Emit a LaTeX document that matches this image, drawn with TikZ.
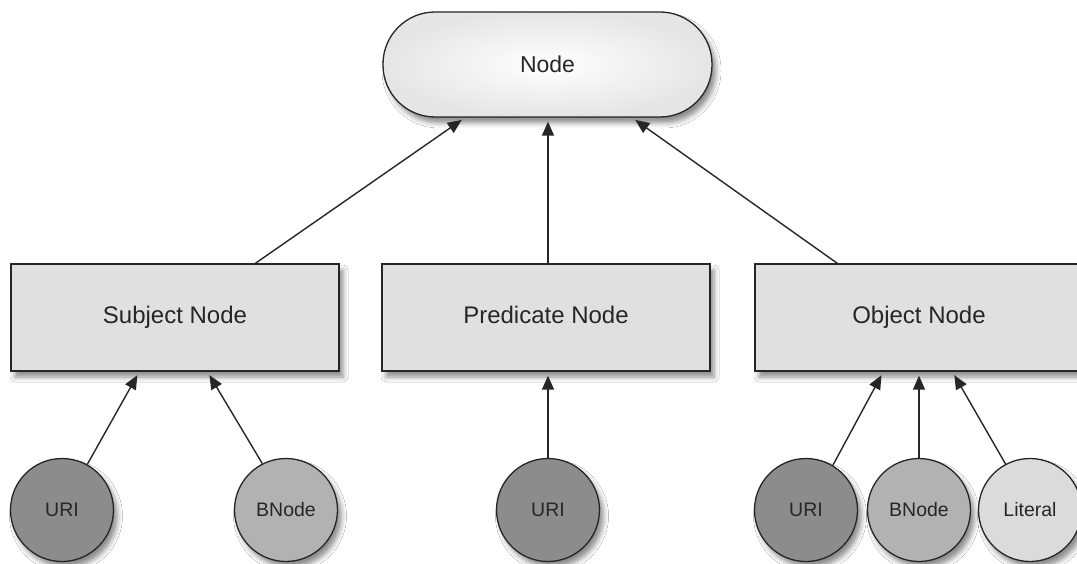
\documentclass[tikz,border=0pt]{standalone}
\usepackage{fontspec}
\setmainfont{Liberation Sans}
\usetikzlibrary{arrows.meta,calc,shadows.blur}
\begin{document}
\begin{tikzpicture}[x=1pt,y=-1pt,
  shd/.style={blur shadow={shadow xshift=4pt,shadow yshift=-6pt,shadow blur radius=5pt,shadow opacity=45}},
  topbox/.style={draw=black!85,line width=1.3pt,rounded corners=52pt,minimum width=329pt,minimum height=105pt,
     shading=radial,inner color=white,outer color=black!10,shd,font=\fontsize{23}{26}\selectfont,text=black!85},
  midbox/.style={draw=black!85,line width=1.3pt,fill=black!12,minimum width=328pt,minimum height=107pt,
     text height=17pt,text depth=5pt,shd,font=\fontsize{24}{27}\selectfont,text=black!85},
  circ/.style={circle,draw=black!85,line width=1.3pt,minimum size=103pt,inner sep=0pt,shd,
     font=\fontsize{19.5}{22}\selectfont,text=black!85},
  uri/.style={circ,fill=black!45},
  bnode/.style={circ,fill=black!30},
  lit/.style={circ,fill=black!14},
  arr/.style={line width=1.4pt,draw=black!85,-{Triangle[length=14pt,width=12pt]},shorten >=4pt}
]
\useasboundingbox (0,0) rectangle (1077,564);
\clip (0,0) rectangle (1077,564);
\fill[white] (0,0) rectangle (1077,564);
\node[topbox] (top) at (547.5,64.5) {Node};
\node[midbox] (subj) at (175,317.5) {Subject Node};
\node[midbox] (pred) at (546,317.5) {Predicate Node};
\node[midbox] (obj) at (919,317.5) {Object Node};
\node[uri] (suri) at (62,510) {URI};
\node[bnode] (sbn) at (286,510) {BNode};
\node[uri] (puri) at (548,510) {URI};
\node[uri] (ouri) at (806,510) {URI};
\node[bnode] (obn) at (919,510) {BNode};
\node[lit] (olit) at (1030,510) {Literal};
% upper arrows
\draw[arr] ($(subj.north west)+(245,0)$) -- ($(top.south)+(-82.5,0)$);
\draw[arr] ($(pred.north)+(2,0)$) -- ($(top.south)+(0.5,0)$);
\draw[arr] ($(obj.north west)+(83,0)$) -- ($(top.south)+(84.5,0)$);
% lower arrows
\draw[arr] (suri.61) -- ($(subj.south west)+(129,0)$);
\draw[arr] (sbn.117) -- ($(subj.south west)+(197,0)$);
\draw[arr] (puri.north) -- ($(pred.south)+(2,0)$);
\draw[arr] (ouri.59) -- ($(obj.south west)+(129,0)$);
\draw[arr] (obn.north) -- (obj.south);
\draw[arr] (olit.118) -- ($(obj.south west)+(198,0)$);
\end{tikzpicture}
\end{document}
